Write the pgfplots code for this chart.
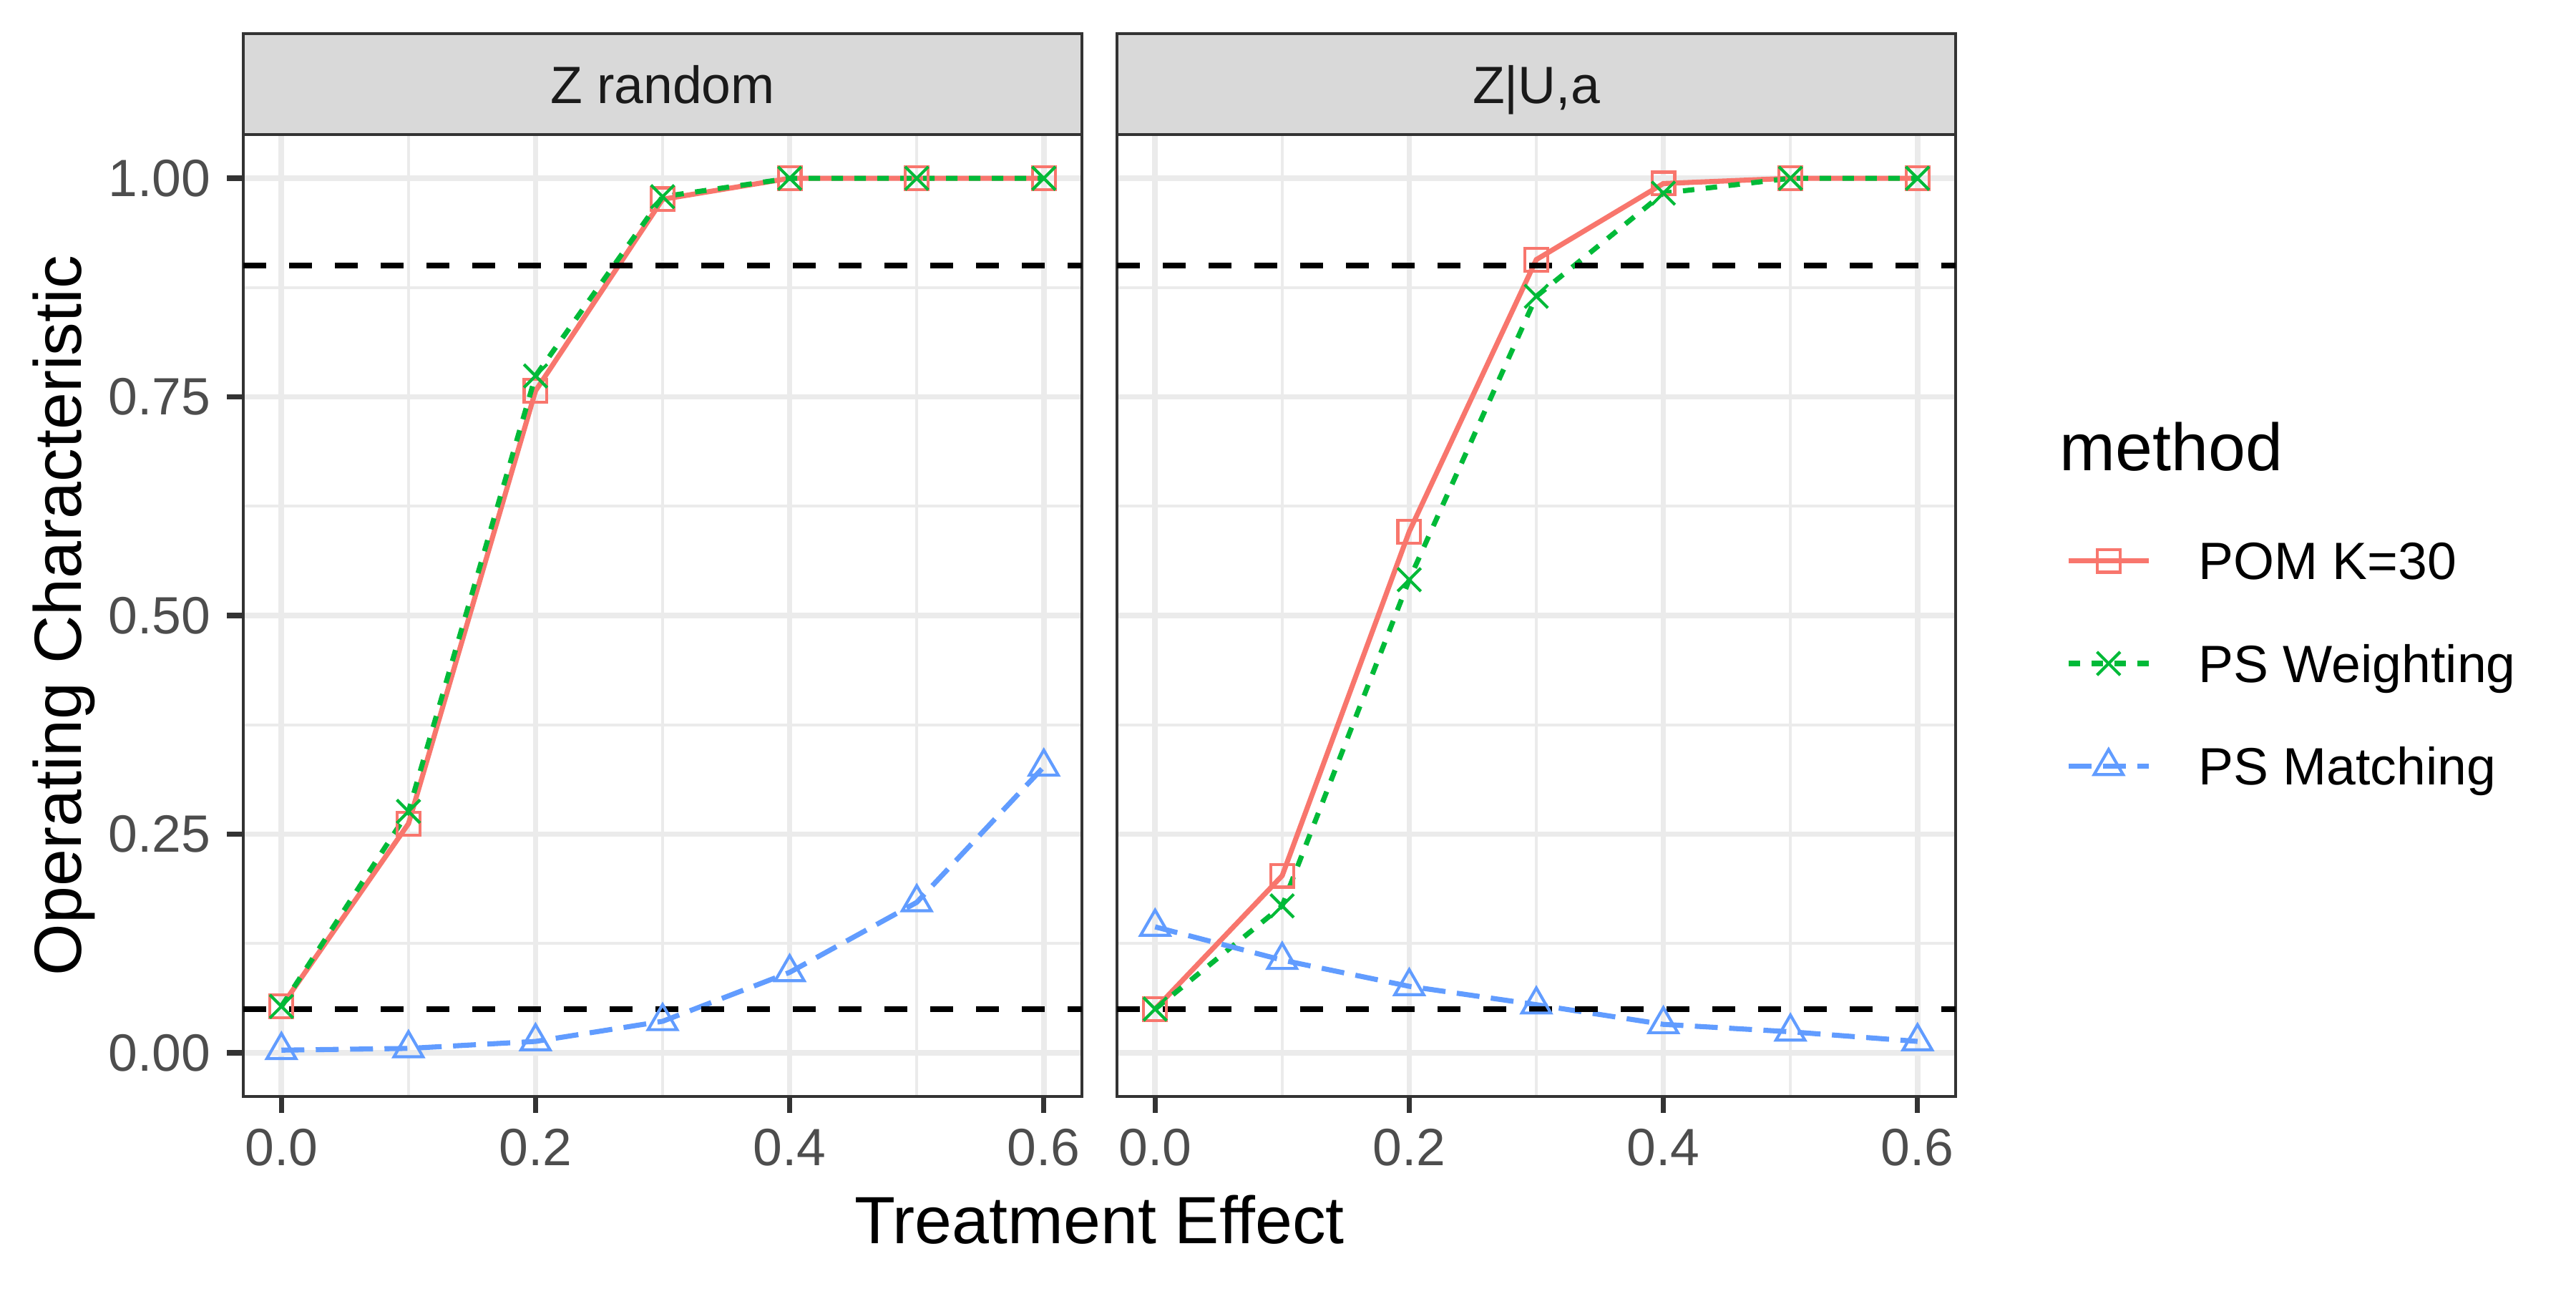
\documentclass[border=0pt]{standalone}
\usepackage{pgfplots}
\pgfplotsset{compat=1.18}
\usepackage{fontspec}
\setmainfont{Liberation Sans}
\definecolor{cred}{HTML}{F8766D}
\definecolor{cgreen}{HTML}{00BA38}
\definecolor{cblue}{HTML}{619CFF}
\definecolor{gridc}{HTML}{EBEBEB}
\definecolor{borderc}{HTML}{333333}
\definecolor{stripc}{HTML}{D9D9D9}
\definecolor{tickc}{HTML}{4D4D4D}
\definecolor{stript}{HTML}{1A1A1A}
\newcommand{\smallf}{\fontsize{17.6pt}{20pt}\selectfont}
\newcommand{\bigf}{\fontsize{22.4pt}{26pt}\selectfont}
\pgfplotsset{
  panel/.style={
    scale only axis, width=281.28pt, height=322.56pt,
    xmin=-0.03, xmax=0.63, ymin=-0.05, ymax=1.05,
    xtick={0,0.2,0.4,0.6}, xticklabels={0.0,0.2,0.4,0.6},
    ytick={0,0.25,0.5,0.75,1},
    minor xtick={0.1,0.3,0.5}, minor ytick={0.125,0.375,0.625,0.875},
    grid=both,
    major grid style={line width=1.85pt, color=gridc},
    minor grid style={line width=1pt, color=gridc},
    axis line style={line width=1.05pt, color=borderc},
    tick align=outside, tick pos=left,
    major tick length=5.5pt, minor tick length=0pt,
    major tick style={line width=1.76pt, color=borderc},
    minor tick style={draw=none},
    tick label style={font=\smallf, text=tickc},
    xticklabel style={inner sep=0pt, yshift=-5.1pt},
    yticklabel style={inner sep=0pt, xshift=-5.3pt},
    axis background/.style={fill=white},
    clip=true,
  },
  pom/.style={color=cred, line width=1.7pt, mark=square, mark size=3.82pt, mark options={solid, line width=1pt}},
  psw/.style={color=cgreen, line width=1.7pt, dash pattern=on 3.84pt off 3.84pt, mark=x, mark size=5.5pt, mark options={solid, line width=1pt}},
  psm/.style={color=cblue, line width=1.7pt, dash pattern=on 7.68pt off 3.84pt, mark=triangle, mark size=5.6pt, mark options={solid, line width=1pt}},
  refl/.style={color=black, line width=1.85pt, dash pattern=on 7.68pt off 7.68pt, forget plot, mark=none},
}
\begin{document}
\begin{tikzpicture}
\useasboundingbox (0pt,0pt) rectangle (864pt,-432pt);
% left panel
\begin{axis}[panel, name=left, at={(81.6pt,-367.68pt)}, anchor=south west,
  yticklabels={0.00,0.25,0.50,0.75,1.00}]
\addplot[pom] coordinates {(0,0.053) (0.1,0.262) (0.2,0.757) (0.3,0.976) (0.4,1) (0.5,1) (0.6,1)};
\addplot[psw] coordinates {(0,0.053) (0.1,0.276) (0.2,0.774) (0.3,0.979) (0.4,1) (0.5,1) (0.6,1)};
\addplot[psm] coordinates {(0,0.003) (0.1,0.005) (0.2,0.013) (0.3,0.036) (0.4,0.092) (0.5,0.172) (0.6,0.327)};
\addplot[refl] coordinates {(-0.03,0.9) (0.63,0.9)};
\addplot[refl] coordinates {(-0.03,0.05) (0.63,0.05)};
\end{axis}
% right panel
\begin{axis}[panel, name=right, at={(374.64pt,-367.68pt)}, anchor=south west,
  yticklabels={}, ytick style={draw=none},
  legend style={at={(1.1314,0.45015)}, anchor=west, draw=none, fill=none,
    inner sep=0pt, outer sep=0pt, row sep=21.74pt, column sep=0pt,
    /tikz/every odd column/.append style={column sep=15.84pt},
    font=\smallf, text=black,
    nodes={inner sep=0pt, text height=12.7pt, text depth=0pt}},
  legend cell align=left,
  legend image code/.code={
    \draw[mark repeat=2,mark phase=2,#1] plot coordinates {(0pt,0pt) (13.5pt,0pt) (27pt,0pt)};
  }]
\addplot[pom] coordinates {(0,0.05) (0.1,0.2025) (0.2,0.596) (0.3,0.907) (0.4,0.994) (0.5,1) (0.6,1)};
\addlegendentry{POM K=30}
\addplot[psw] coordinates {(0,0.05) (0.1,0.168) (0.2,0.541) (0.3,0.865) (0.4,0.983) (0.5,1) (0.6,1)};
\addlegendentry{PS Weighting}
\addplot[psm] coordinates {(0,0.144) (0.1,0.106) (0.2,0.076) (0.3,0.055) (0.4,0.0325) (0.5,0.024) (0.6,0.013)};
\addlegendentry{PS Matching}
\addplot[refl] coordinates {(-0.03,0.9) (0.63,0.9)};
\addplot[refl] coordinates {(-0.03,0.05) (0.63,0.05)};
\end{axis}
% strips
\draw[fill=stripc, draw=borderc, line width=1.05pt] (81.6pt,-45.12pt) rectangle (362.88pt,-11.28pt);
\draw[fill=stripc, draw=borderc, line width=1.05pt] (374.64pt,-45.12pt) rectangle (655.92pt,-11.28pt);
\node[anchor=base, font=\smallf, text=stript, inner sep=0pt] at (222.24pt,-34.56pt) {Z random};
\node[anchor=base, font=\smallf, text=stript, inner sep=0pt] at (515.28pt,-34.56pt) {Z|U,a};
% axis titles
\node[anchor=base, font=\bigf, inner sep=0pt] at (368.76pt,-416.88pt) {Treatment Effect};
\node[anchor=base, rotate=90, font=\bigf, inner sep=0pt] at (27.12pt,-206.4pt) {Operating Characteristic};
% legend title
\node[anchor=base west, font=\bigf, inner sep=0pt] at (690.72pt,-157.68pt) {method};
\end{tikzpicture}
\end{document}
